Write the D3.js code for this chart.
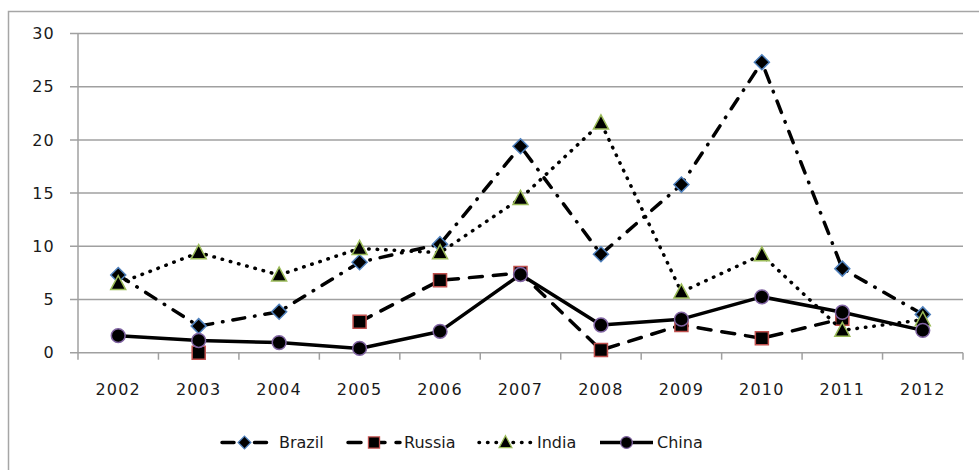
<!DOCTYPE html>
<html>
<head>
<meta charset="utf-8">
<script src="https://cdn.jsdelivr.net/npm/d3@7"></script>
<style>
body { margin: 0; background: #fff; }
text { font-family: 'DejaVu Sans', Verdana, sans-serif; fill: #1a1a1a; }
</style>
</head>
<body>
<div id="chart"></div>
<script>
var years = ['2002','2003','2004','2005','2006','2007','2008','2009','2010','2011','2012'];
var brazil = [7.3, 2.5, 3.85, 8.5, 10.2, 19.4, 9.25, 15.8, 27.3, 7.9, 3.6];
var russia = [null, 0, null, 2.9, 6.8, 7.5, 0.25, 2.6, 1.35, 3.2, null];
var india  = [6.5, 9.4, 7.3, 9.8, 9.4, 14.5, 21.6, 5.7, 9.2, 2.1, 3.1];
var china  = [1.6, 1.15, 0.95, 0.4, 2.0, 7.35, 2.6, 3.15, 5.25, 3.8, 2.1];
var yTicks = [0, 5, 10, 15, 20, 25, 30];
var seriesNames = ['Brazil', 'Russia', 'India', 'China'];

var svgwidth = 979, svgheight = 470;
var margin = {top: 33.5, left: 78, right: 16, bottom: 117.3};
var width = svgwidth - margin.left - margin.right,
	height = svgheight - margin.top - margin.bottom;

var svg = d3.select('#chart')
	.append('svg')
		.attr('width', svgwidth)
		.attr('height', svgheight);

// outer frame (cut off on right/bottom like the screenshot)
svg.append('rect')
	.attr('x', 8.5).attr('y', 11.5)
	.attr('width', svgwidth + 20).attr('height', svgheight + 20)
	.attr('fill', 'none')
	.attr('stroke', '#a6a6a6')
	.attr('stroke-width', 1.5);

var x = d3.scaleBand().domain(years).range([0, width]);
var y = d3.scaleLinear().domain([0, 30]).range([height, 0]);

var g = svg.append('g')
	.attr('transform', 'translate(' + margin.left + ',' + margin.top + ')');

// gridlines
g.selectAll('.grid')
	.data(yTicks)
	.enter().append('line')
		.attr('x1', -8).attr('x2', width)
		.attr('y1', function(d) { return y(d); })
		.attr('y2', function(d) { return y(d); })
		.attr('stroke', '#a0a0a0')
		.attr('stroke-width', 1.5);

g.append('line')
	.attr('x1', 0).attr('x2', 0)
	.attr('y1', 0).attr('y2', height)
	.attr('stroke', '#a0a0a0').attr('stroke-width', 1.5);

// x ticks at category boundaries
var bounds = years.map(function(d) { return x(d); }).concat([width]);
g.selectAll('.xtick')
	.data(bounds)
	.enter().append('line')
		.attr('x1', function(d) { return d; })
		.attr('x2', function(d) { return d; })
		.attr('y1', height).attr('y2', height + 7)
		.attr('stroke', '#a0a0a0').attr('stroke-width', 1.5);

g.selectAll('.ylabel')
	.data(yTicks)
	.enter().append('text')
		.attr('x', -23)
		.attr('y', function(d) { return y(d); })
		.attr('dy', '0.36em')
		.attr('text-anchor', 'end')
		.attr('font-size', 16)
		.attr('letter-spacing', 1.2)
		.text(function(d) { return d; });

g.selectAll('.xlabel')
	.data(years)
	.enter().append('text')
		.attr('x', function(d) { return x(d) + x.bandwidth() / 2; })
		.attr('y', height + 42)
		.attr('text-anchor', 'middle')
		.attr('font-size', 16)
		.attr('letter-spacing', 1.2)
		.text(function(d) { return d; });

var styles = [
	{values: brazil, dash: '12,10,0.5,10', marker: 'diamond', stroke: '#4f81bd'},
	{values: russia, dash: '13,11', marker: 'square', stroke: '#c0504d'},
	{values: india, dash: '0.5,8', marker: 'triangle', stroke: '#9bbb59'},
	{values: china, dash: null, marker: 'circle', stroke: '#8064a2'}
];

function markerPath(type) {
	if (type === 'diamond') return 'M0,-7.5L7.5,0L0,7.5L-7.5,0Z';
	if (type === 'square') return d3.symbol(d3.symbolSquare, 170)();
	if (type === 'triangle') return 'M0,-8L7.5,6L-7.5,6Z';
	return d3.symbol(d3.symbolCircle, 150)();
}

var line = d3.line()
	.defined(function(d) { return d != null; })
	.x(function(d, i) { return x(years[i]) + x.bandwidth() / 2; })
	.y(function(d) { return y(d); });

styles.forEach(function(s) {
	g.append('path')
		.datum(s.values)
		.attr('fill', 'none')
		.attr('stroke', '#000')
		.attr('stroke-width', 3.5)
		.attr('stroke-linecap', 'round')
		.attr('stroke-linejoin', 'round')
		.attr('stroke-dasharray', s.dash)
		.attr('d', line);

	g.selectAll(null)
		.data(s.values.map(function(v, i) { return {v: v, i: i}; })
			.filter(function(d) { return d.v != null; }))
		.enter().append('path')
			.attr('transform', function(d) {
				return 'translate(' + (x(years[d.i]) + x.bandwidth() / 2) + ',' + y(d.v) + ')';
			})
			.attr('d', markerPath(s.marker))
			.attr('fill', '#000')
			.attr('stroke', s.stroke)
			.attr('stroke-width', 1.5);
});

// legend
var legendPos = [
	{x0: 222, x1: 267, tx: 279},
	{x0: 348, x1: 400, tx: 404},
	{x0: 479, x1: 532, tx: 537},
	{x0: 600, x1: 653, tx: 657}
];
var legendY = 442.5;
seriesNames.forEach(function(name, i) {
	var p = legendPos[i], s = styles[i];
	var lg = svg.append('g');
	lg.append('line')
		.attr('x1', p.x0).attr('x2', p.x1)
		.attr('y1', legendY).attr('y2', legendY)
		.attr('stroke', '#000')
		.attr('stroke-width', 3.5)
		.attr('stroke-linecap', s.dash ? 'round' : 'butt')
		.attr('stroke-dasharray', s.dash);
	lg.append('path')
		.attr('transform', 'translate(' + ((p.x0 + p.x1) / 2) + ',' + legendY + ') scale(0.85)')
		.attr('d', markerPath(s.marker))
		.attr('fill', '#000')
		.attr('stroke', s.stroke)
		.attr('stroke-width', 1.5);
	lg.append('text')
		.attr('x', p.tx)
		.attr('y', legendY)
		.attr('dy', '0.36em')
		.attr('font-size', 16)
		.text(name);
});
</script>
</body>
</html>
